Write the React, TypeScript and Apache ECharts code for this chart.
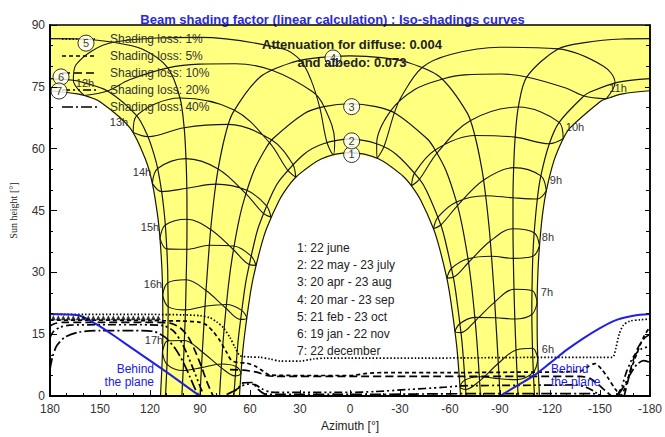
import React, { useEffect, useRef } from "react";
import * as echarts from "echarts";

type Pt = [number, number];

// ---------- axes ----------
const azimuthRange = [180, -180];
const heightRange = [0, 90];
const azimuthStep = 30;
const heightStep = 15;

// ---------- sun paths (azimuth, sun height) ----------
const path1: Pt[] = [
  [-66.3, 0], [-66.0, 2.2], [-64.4, 10.6], [-63.0, 15.6], [-60.2, 23.8], [-58.1, 28.6], [-53.5, 36.2],
  [-50.1, 40.6], [-42.6, 47.4], [-36.9, 51.0], [-31.7, 53.4], [-17.3, 57.5], [0, 59.05], [17.3, 57.5],
  [31.7, 53.4], [36.9, 51.0], [42.6, 47.4], [50.1, 40.6], [53.5, 36.2], [58.1, 28.6], [60.2, 23.8],
  [63.0, 15.6], [64.4, 10.6], [66.0, 2.2], [66.3, 0],
];
const path2: Pt[] = [
  [-69.6, 0], [-69.4, 1.6], [-67.6, 11.3], [-66.6, 15.4], [-63.6, 24.8], [-62.0, 28.8], [-57.1, 37.8],
  [-54.5, 41.5], [-46.3, 49.5], [-41.7, 52.6], [-27.8, 58.6], [-16.0, 61.2], [0, 62.3], [16.0, 61.2],
  [27.8, 58.6], [41.7, 52.6], [46.3, 49.5], [54.5, 41.5], [57.1, 37.8], [62.0, 28.8], [63.6, 24.8],
  [66.6, 15.4], [67.6, 11.3], [69.4, 1.6], [69.6, 0],
];
const path3: Pt[] = [
  [-78.3, 0], [-77.6, 4.7], [-76.2, 13.0], [-74.9, 19.1], [-72.8, 27.3], [-70.8, 33.3], [-67.3, 41.3],
  [-63.9, 47.1], [-57.7, 54.6], [-51.1, 59.7], [-46.3, 62.4], [-27.6, 68.5], [-15.6, 70.2], [0, 70.9],
  [15.6, 70.2], [27.6, 68.5], [46.3, 62.4], [51.1, 59.7], [57.7, 54.6], [63.9, 47.1], [67.3, 41.3],
  [70.8, 33.3], [72.8, 27.3], [74.9, 19.1], [76.2, 13.0], [77.6, 4.7], [78.3, 0],
];
const path4: Pt[] = [
  [-90, 0], [-89.5, 4.2], [-88.6, 10.7], [-87.4, 19.0], [-86.4, 25.6], [-84.9, 33.9], [-83.6, 40.4],
  [-81.4, 48.6], [-79.1, 55.1], [-74.9, 63.2], [-70.3, 68.7], [-53.6, 77.5], [-34.1, 81.0], [-18.9, 82.1],
  [0, 82.5], [18.9, 82.1], [34.1, 81.0], [53.6, 77.5], [70.3, 68.7], [74.9, 63.2], [79.1, 55.1],
  [81.4, 48.6], [83.6, 40.4], [84.9, 33.9], [86.4, 25.6], [87.4, 19.0], [88.6, 10.7], [89.5, 4.2], [90, 0],
];
const path5Left: Pt[] = [
  [180, 86.7], [163.1, 86.6], [141.9, 85.8], [124.4, 84.1], [109.3, 79.6], [102.0, 72.3], [99.5, 65.1],
  [98.4, 57.6], [97.9, 50.4], [97.8, 42.9], [97.9, 35.6], [98.3, 28.2], [98.7, 20.9], [99.4, 13.5],
  [100.1, 6.2], [100.9, 0],
];
const path5Right: Pt[] = [
  [-180, 86.7], [-163.1, 86.6], [-141.9, 85.8], [-124.8, 84.2], [-106.1, 77.4], [-101.0, 70.1],
  [-99.1, 62.8], [-98.2, 55.4], [-97.8, 48.1], [-97.8, 40.6], [-98.0, 33.4], [-98.4, 25.9],
  [-98.9, 18.7], [-99.6, 11.2], [-100.4, 4.0], [-100.9, 0],
];
const path6Left: Pt[] = [
  [180, 77.0], [166.0, 76.6], [160.3, 76.1], [145.5, 74.0], [128.0, 68.0], [121.2, 62.9], [117.3, 58.2],
  [115.4, 55.2], [113.0, 49.6], [111.5, 44.6], [110.8, 41.5], [109.9, 35.7], [109.4, 30.7], [109.3, 27.5],
  [109.1, 21.7], [109.2, 16.6], [109.4, 13.4], [109.8, 7.7], [110.7, 0],
];
const path6Right: Pt[] = [
  [-180, 77.0], [-160.3, 76.1], [-144.4, 73.8], [-140.4, 72.8], [-125.5, 66.4], [-119.6, 61.2],
  [-114.5, 53.4], [-112.4, 47.8], [-110.5, 39.6], [-109.7, 33.9], [-109.2, 25.6], [-109.1, 19.8],
  [-109.5, 11.6], [-110.0, 5.8], [-110.7, 0],
];
const path7Left: Pt[] = [
  [180, 74.05], [163.6, 73.3], [159.4, 72.9], [150.0, 71.4], [131.9, 65.0], [122.4, 57.1], [118.6, 51.6],
  [115.5, 44.0], [114.0, 38.2], [112.8, 30.4], [112.4, 24.5], [112.3, 16.7], [112.5, 10.7], [113.7, 0],
];
const path7Right: Pt[] = [
  [-180, 74.05], [-163.6, 73.3], [-153.7, 72.1], [-150.0, 71.4], [-131.9, 65.0], [-127.9, 62.4],
  [-122.4, 57.1], [-117.8, 49.8], [-115.5, 44.0], [-113.7, 36.4], [-112.8, 30.4], [-112.3, 22.7],
  [-112.3, 16.7], [-112.7, 8.9], [-113.7, 0],
];

// ---------- hour lines (legal time) through the year ----------
const hour6: Pt[] = [[-112.7, 8.9], [-110.0, 5.8], [-100.4, 4.0], [-89.5, 4.2], [-77.6, 4.7], [-69.0, 3.9], [-66.0, 2.2], [-69.4, 1.6], [-77.8, 3.7], [-88.9, 7.9], [-99.6, 11.2], [-109.5, 11.6], [-112.7, 8.9]];
const hour7: Pt[] = [[-112.3, 22.7], [-109.1, 19.8], [-98.9, 18.7], [-87.4, 19.0], [-74.9, 19.1], [-66.0, 17.6], [-63.0, 15.6], [-66.6, 15.4], [-75.1, 18.2], [-86.8, 22.8], [-98.4, 25.9], [-109.2, 25.6], [-112.3, 22.7]];
const hour8: Pt[] = [[-113.7, 36.4], [-109.7, 33.9], [-98.0, 33.4], [-84.9, 33.9], [-70.8, 33.3], [-61.0, 31.0], [-58.1, 28.6], [-62.0, 28.8], [-71.1, 32.4], [-84.2, 37.6], [-97.8, 40.6], [-110.5, 39.6], [-113.7, 36.4]];
const hour9: Pt[] = [[-117.8, 49.8], [-112.4, 47.8], [-97.8, 48.1], [-81.4, 48.6], [-63.9, 47.1], [-52.8, 43.4], [-50.1, 40.6], [-54.5, 41.5], [-64.5, 46.2], [-80.2, 52.4], [-98.2, 55.4], [-114.5, 53.4], [-117.8, 49.8]];
const hour10: Pt[] = [[-127.9, 62.4], [-119.6, 61.2], [-99.1, 62.8], [-74.9, 63.2], [-51.1, 59.7], [-38.9, 54.2], [-36.9, 51.0], [-41.7, 52.6], [-52.3, 59.0], [-72.1, 66.8], [-101.0, 70.1], [-125.5, 66.4], [-127.9, 62.4]];
const hour11: Pt[] = [[-153.7, 72.1], [-140.4, 72.8], [-129.5, 74.7], [-106.1, 77.4], [-90.8, 78.1], [-68.8, 77.9], [-55.7, 76.9], [-39.1, 74.4], [-24.3, 69.1], [-16.0, 61.2], [-16.2, 57.7], [-20.3, 60.4], [-26.6, 68.7], [-30.8, 72.6], [-43.3, 79.7], [-60.9, 82.9], [-90.0, 84.6], [-124.8, 84.2], [-152.1, 80.0], [-159.0, 76.0], [-153.7, 72.1]];
const hour12: Pt[] = [[159.4, 72.9], [166.0, 76.6], [164.5, 80.3], [141.9, 85.8], [90.0, 87.0], [40.0, 84.2], [29.7, 81.4], [23.4, 76.7], [18.1, 69.9], [13.8, 61.5], [10.0, 58.6], [9.2, 61.9], [15.6, 70.2], [22.4, 73.8], [47.2, 79.1], [68.7, 80.6], [90.5, 80.5], [109.2, 79.6], [132.3, 76.7], [145.5, 74.0], [159.4, 72.9]];
const hour13: Pt[] = [[130.1, 63.9], [128.0, 68.0], [102.0, 72.3], [69.5, 69.4], [48.2, 61.4], [37.6, 54.9], [32.6, 53.1], [34.4, 56.3], [46.9, 62.1], [72.9, 65.9], [99.5, 65.1], [121.2, 62.9], [130.1, 63.9]];
const hour14: Pt[] = [[118.6, 51.6], [115.4, 55.2], [98.4, 57.6], [79.1, 55.1], [62.5, 49.1], [52.0, 44.3], [47.4, 43.4], [50.2, 46.2], [61.9, 49.9], [80.5, 51.4], [97.9, 50.4], [113.0, 49.6], [118.6, 51.6]];
const hour15: Pt[] = [[114.0, 38.2], [110.8, 41.5], [97.8, 42.9], [83.6, 40.4], [69.9, 35.5], [60.5, 31.9], [56.4, 31.7], [59.4, 34.0], [69.6, 36.4], [84.4, 36.6], [97.9, 35.6], [109.9, 35.7], [114.0, 38.2]];
const hour16: Pt[] = [[112.4, 24.5], [109.3, 27.5], [98.3, 28.2], [86.4, 25.6], [74.4, 21.3], [65.7, 18.6], [62.0, 18.9], [65.0, 20.8], [74.2, 22.2], [87.0, 21.8], [98.7, 20.9], [109.1, 21.7], [112.4, 24.5]];
const hour17: Pt[] = [[112.5, 10.7], [109.4, 13.4], [99.4, 13.5], [88.6, 10.7], [77.3, 6.9], [68.9, 4.9], [65.4, 5.5], [68.4, 7.2], [77.1, 7.8], [89.1, 6.9], [100.1, 6.2], [109.8, 7.7], [112.5, 10.7]];

// ---------- iso-shading curves ----------
const iso1: Pt[][] = [[
  [180, 19.8], [150, 19.8], [120, 19.8], [100, 19.7], [90, 19.5], [84, 19.0], [80, 18.0], [76, 16.6], [72, 14.2],
  [69, 11.8], [66, 9.8], [60, 9.5], [54, 9.4], [48, 9.0], [42, 8.5], [30, 8.5], [22, 9.0], [15, 9.2], [0, 9.2],
  [-40, 9.2], [-80, 9.3], [-120, 9.4], [-150, 9.4], [-157.5, 9.4], [-159.5, 11.6], [-161.5, 15.0],
  [-164, 17.2], [-168, 18.2], [-174, 18.5], [-180, 18.7],
]];
const iso5: Pt[][] = [[
  [180, 18.4], [150, 18.4], [120, 18.3], [100, 18.2], [90, 17.9], [86, 17.2], [82, 15.6], [78, 13.4], [74, 10.6],
  [71, 8.6], [66, 8.1], [62, 8.0], [57, 7.3], [52, 6.0], [48, 5.1], [30, 5.0], [0, 5.0], [-10, 5.5], [-20, 5.7],
  [-60, 5.7], [-100, 5.8], [-138, 6.0], [-143, 7.2], [-147, 7.9], [-151, 6.5], [-155, 4.3], [-159, 1.8],
  [-162.5, 0.2], [-165, 2.0], [-168, 5.8], [-172, 10.2], [-176, 14.2], [-180, 16.8],
]];
const iso10: Pt[][] = [
  [[180, 17.0], [177, 17.6], [172, 17.9], [150, 17.9], [120, 17.9], [108, 17.7], [102, 16.6], [97, 14.3], [93, 11.0], [89, 7.0], [86, 3.6], [83, 0.8], [82, 0]],
  [[72, 6.4], [64, 6.3], [56, 5.8], [50, 5.0], [45, 4.8], [0, 4.8], [-40, 4.8], [-80, 4.8], [-112, 4.8], [-138, 4.8], [-144, 4.3], [-149, 2.8], [-154, 1.0], [-157, 0]],
  [[-164.5, 0], [-166.5, 3.2], [-169, 7.5], [-172.5, 11.5], [-176.5, 14.0], [-180, 15.0]],
];
const iso20: Pt[][] = [
  [[180, 14.2], [178, 15.6], [174, 16.7], [168, 17.2], [150, 17.3], [125, 17.3], [112, 17.1], [106, 15.8], [101, 13.0], [97, 9.5], [93, 5.5], [90, 2.4], [88, 0.5]],
  [[70, 1.0], [66, 2.2], [62, 2.9], [57, 2.8], [53, 1.8], [48, 1.0], [40, 0.9], [0, 0.9], [-15, 1.1], [-35, 1.6], [-55, 2.1], [-68, 2.5], [-100, 2.6], [-136, 2.7], [-142, 2.1], [-147, 1.0], [-150, 0]],
  [[-160, 0], [-163, 2.2], [-166, 6.0], [-170, 9.5], [-175, 11.5], [-180, 12.0]],
];
const iso40: Pt[][] = [
  [[180, 6.5], [178.5, 9.5], [176, 12.2], [171, 14.3], [163, 15.5], [150, 15.9], [130, 15.9], [118, 15.7], [111, 14.3], [105, 11.6], [100, 8.2], [96, 4.6], [93, 1.8], [91, 0.3]],
  [[74, 0.4], [68, 1.6], [64, 3.2], [59, 3.3], [55, 1.6], [51, 0.5], [40, 0.4], [0, 0.4], [-40, 0.5], [-80, 0.6], [-120, 0.6], [-145, 0.6], [-150, 0.3]],
  [[-161, 0.3], [-164, 2.2], [-168, 5.2], [-172, 7.6], [-176, 8.6], [-180, 8.2]],
];

// ---------- "behind the plane" limits ----------
const behindLeft: Pt[] = [[180, 19.9], [170, 19.8], [162, 19.5], [156, 18.3], [150, 16.9], [140, 14.2], [130, 11.4], [120, 8.6], [110, 5.8], [100, 2.9], [90, 0]];
const behindRight: Pt[] = [[-90, 0], [-100, 2.5], [-110, 4.9], [-120, 8.0], [-130, 11.2], [-140, 14.0], [-150, 16.5], [-160, 18.5], [-170, 19.5], [-180, 19.9]];

// row of triangle marks
const triangleAz = [178, 175, 172, 169, 166, 163, 160, 157, 154, 151, 148, 145, 142, 139, 136, 133, 130, 127, 124, 121, 118, 115];
const triangleH = 19.0;

// ---------- labels ----------
const dateMarkNames = ["1", "2", "3", "4", "5", "6", "7"];
const dateMarkAz = [-1, -1, -1, 10.2, 158.4, 173.4, 174.6];
const dateMarkH = [58.6, 61.9, 70.2, 82.0, 85.6, 77.4, 74.0];

const hourNames = ["6h", "7h", "8h", "9h", "10h", "11h", "12h", "13h", "14h", "15h", "16h", "17h"];
const hourLabelAz = [-118.8, -118.2, -118.8, -123.6, -135, -160.8, 159, 138.6, 124.8, 120, 118.2, 117.6];
const hourLabelH = [11.4, 25.2, 38.7, 52.3, 65.3, 74.8, 76, 66.5, 54.4, 40.9, 27.3, 13.5];

const legendLabels = ["Shading loss: 1%", "Shading loss: 5%", "Shading loss: 10%", "Shading loss: 20%", "Shading loss: 40%"];
const dateLegend = ["1: 22 june", "2: 22 may - 23 july", "3: 20 apr - 23 aug", "4: 20 mar - 23 sep", "5: 21 feb - 23 oct", "6: 19 jan - 22 nov", "7: 22 december"];
const attenuationLines = ["Attenuation for diffuse: 0.004", "and albedo: 0.073"];
const titleText = "Beam shading factor (linear calculation) : Iso-shadings curves";

// ---------- styles ----------
const SANS = '"Liberation Sans", Arial, Helvetica, sans-serif';
const SERIF = '"Liberation Serif", "Times New Roman", serif';
const YELLOW = "#ffff80";
const BLUE = "#2020e0";
const ISO_DASH: number[][] = [[1.5, 2], [4, 3], [8, 4], [8, 3, 2, 3, 2, 3], [11, 3, 2, 3]];

export default function App() {
  const ref = useRef<HTMLDivElement>(null);

  useEffect(() => {
    if (!ref.current) return;
    const chart = echarts.init(ref.current, undefined, { renderer: "svg" });

    const sunRegion: Pt[] = [...[...path7Left].reverse(), [180, 90], [-180, 90], ...path7Right, ...path1];

    const line = (data: Pt[], style: any, z: number, smooth: number) => ({
      type: "line",
      data,
      symbol: "none",
      smooth,
      lineStyle: style,
      z,
      silent: true,
      clip: true,
    });

    const dayStyle = { color: "#151515", width: 1.2 };
    const hourStyle = { color: "#151515", width: 1.1 };
    const isoSets = [iso1, iso5, iso10, iso20, iso40];

    const series: any[] = [
      {
        type: "custom",
        coordinateSystem: "cartesian2d",
        data: [[0, 0]],
        z: 1,
        silent: true,
        renderItem: (_p: any, api: any) => ({
          type: "polygon",
          shape: { points: sunRegion.map((p) => api.coord(p)) },
          style: { fill: YELLOW, stroke: YELLOW, lineWidth: 0.5 },
        }),
      },
    ];

    [path1, path2, path3, path4, path5Left, path5Right, path6Left, path6Right, path7Left, path7Right].forEach((p) =>
      series.push(line(p, dayStyle, 3, 0.3))
    );
    [hour6, hour7, hour8, hour9, hour10, hour11, hour12, hour13, hour14, hour15, hour16, hour17].forEach((p) =>
      series.push(line(p, hourStyle, 3, 0.35))
    );
    isoSets.forEach((set, i) =>
      set.forEach((piece) => series.push(line(piece, { color: "#000", width: 1.7, type: ISO_DASH[i] }, 5, 0.25)))
    );
    series.push(line(behindLeft, { color: BLUE, width: 2 }, 6, 0.3));
    series.push(line(behindRight, { color: BLUE, width: 2 }, 6, 0.3));

    series.push({
      type: "scatter",
      symbol: "triangle",
      symbolSize: 5,
      itemStyle: { color: "#000" },
      data: triangleAz.map((a) => [a, triangleH]),
      z: 6,
      silent: true,
    });

    series.push({
      type: "scatter",
      symbol: "circle",
      symbolSize: 16,
      itemStyle: { color: "#fff", borderColor: "#000", borderWidth: 1 },
      label: {
        show: true, position: "inside", formatter: "{b}", fontFamily: SANS, fontSize: 11,
        color: "#000", textBorderWidth: 0,
      },
      data: dateMarkNames.map((n, i) => ({ name: n, value: [dateMarkAz[i], dateMarkH[i]] })),
      z: 15,
      silent: true,
    });

    // hour labels drawn as texts placed through the axes' scales
    series.push({
      type: "custom",
      coordinateSystem: "cartesian2d",
      data: hourNames.map((_n, i) => [hourLabelAz[i], hourLabelH[i]]),
      z: 16,
      silent: true,
      clip: false,
      renderItem: (params: any, api: any) => {
        const p = api.coord([api.value(0), api.value(1)]);
        return {
          type: "text",
          x: p[0],
          y: p[1],
          style: {
            text: hourNames[params.dataIndex],
            fill: "#333",
            font: `11px ${SANS}`,
            align: "center",
            verticalAlign: "middle",
          },
        };
      },
    });

    const graphic: any[] = [];
    legendLabels.forEach((t, i) => {
      const y = 39 + 17 * i;
      graphic.push({
        type: "line",
        z: 7,
        shape: { x1: 62, y1: y, x2: 97, y2: y },
        style: { stroke: "#000", lineWidth: 1.7, lineDash: ISO_DASH[i] },
      });
      graphic.push({
        type: "text",
        z: 100,
        x: 110,
        y,
        style: { text: t, font: `12px ${SANS}`, fill: "#333", align: "left", verticalAlign: "middle" },
      });
    });
    attenuationLines.forEach((t, i) =>
      graphic.push({
        type: "text",
        z: 100,
        x: 352,
        y: 44 + 18 * i,
        style: { text: t, font: `bold 13px ${SANS}`, fill: "#222", align: "center", verticalAlign: "middle" },
      })
    );
    dateLegend.forEach((t, i) =>
      graphic.push({
        type: "text",
        z: 100,
        x: 297,
        y: 248 + 17.2 * i,
        style: { text: t, font: `12px ${SANS}`, fill: "#222", align: "left", verticalAlign: "middle" },
      })
    );
    graphic.push({
      type: "text",
      z: 100,
      x: 154,
      y: 375,
      style: { text: "Behind\nthe plane", font: `12px ${SANS}`, fill: BLUE, align: "right", verticalAlign: "middle", lineHeight: 13 },
    });
    graphic.push({
      type: "text",
      z: 100,
      x: 551,
      y: 375,
      style: { text: "Behind\nthe plane", font: `12px ${SANS}`, fill: BLUE, align: "left", verticalAlign: "middle", lineHeight: 13 },
    });

    const option: any = {
      animation: false,
      backgroundColor: "#fff",
      title: {
        text: titleText,
        left: "center",
        top: 8,
        textStyle: { color: "#2a2ad8", fontSize: 13, fontWeight: "bold", fontFamily: SANS },
      },
      grid: { left: 50, right: 15, top: 25, bottom: 40, show: true, borderColor: "#000", borderWidth: 1.5, backgroundColor: "transparent", z: 20 },
      xAxis: {
        type: "value",
        min: azimuthRange[1],
        max: azimuthRange[0],
        interval: azimuthStep,
        inverse: true,
        z: 20,
        name: "Azimuth [°]",
        nameLocation: "middle",
        nameGap: 22,
        nameTextStyle: { fontFamily: SANS, fontSize: 12, color: "#222" },
        axisLine: { show: true, onZero: false, lineStyle: { color: "#000", width: 2 } },
        axisTick: { show: true, inside: true, length: 6, lineStyle: { color: "#000" } },
        minorTick: { show: true, splitNumber: 3, length: 3, lineStyle: { color: "#000" } },
        axisLabel: { fontFamily: SANS, fontSize: 12, color: "#333", margin: 7 },
        splitLine: { show: false },
        minorSplitLine: { show: false },
      },
      yAxis: [
        {
          type: "value",
          min: heightRange[0],
          max: heightRange[1],
          interval: heightStep,
          position: "left",
          z: 20,
          name: "Sun height [°]",
          nameLocation: "middle",
          nameGap: 32,
          nameRotate: 90,
          nameTextStyle: { fontFamily: SERIF, fontSize: 10, color: "#222" },
          axisLine: { show: true, onZero: false, lineStyle: { color: "#000", width: 2 } },
          axisTick: { show: true, inside: true, length: 7, lineStyle: { color: "#000" } },
          minorTick: { show: true, splitNumber: 3, length: 3, lineStyle: { color: "#000" } },
          axisLabel: { fontFamily: SANS, fontSize: 12, color: "#333", margin: 5 },
          splitLine: { show: false },
        },
        {
          type: "value",
          min: heightRange[0],
          max: heightRange[1],
          interval: heightStep,
          position: "right",
          z: 20,
          axisLine: { show: true, onZero: false, lineStyle: { color: "#000", width: 1.5 } },
          axisTick: { show: true, inside: true, length: 5, lineStyle: { color: "#000" } },
          minorTick: { show: true, splitNumber: 3, length: 4, lineStyle: { color: "#000" } },
          axisLabel: { show: false },
          splitLine: { show: false },
        },
      ],
      series,
      graphic,
    };

    chart.setOption(option);
    return () => chart.dispose();
  }, []);

  return (
    <div
      ref={ref}
      style={{ position: "fixed", left: 0, top: 0, width: 665, height: 437, background: "#fff" }}
    />
  );
}
